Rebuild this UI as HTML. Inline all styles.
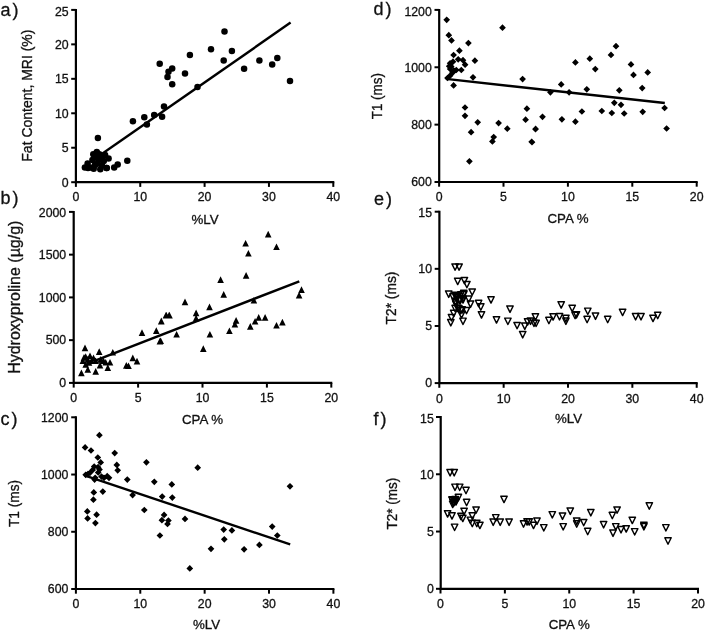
<!DOCTYPE html>
<html><head><meta charset="utf-8"><title>Figure</title>
<style>html,body{margin:0;padding:0;background:#fff;width:706px;height:631px;overflow:hidden}svg{display:block;will-change:transform;filter:blur(0.35px)}text{stroke:#111;stroke-width:0.3px}</style>
</head><body>
<svg width="706" height="631" viewBox="0 0 706 631" font-family='"Liberation Sans", sans-serif' fill="#111" stroke-width="0">
<rect width="706" height="631" fill="#fff"/>
<path d="M75.9 8.9V182.2H334.3" fill="none" stroke="#000" stroke-width="2.2" stroke-linejoin="miter" stroke-linecap="butt"/>
<line x1="71.2" y1="182.2" x2="75.9" y2="182.2" stroke="#000" stroke-width="2.0"/>
<line x1="71.2" y1="147.74" x2="75.9" y2="147.74" stroke="#000" stroke-width="2.0"/>
<line x1="71.2" y1="113.28" x2="75.9" y2="113.28" stroke="#000" stroke-width="2.0"/>
<line x1="71.2" y1="78.82" x2="75.9" y2="78.82" stroke="#000" stroke-width="2.0"/>
<line x1="71.2" y1="44.36" x2="75.9" y2="44.36" stroke="#000" stroke-width="2.0"/>
<line x1="71.2" y1="9.9" x2="75.9" y2="9.9" stroke="#000" stroke-width="2.0"/>
<line x1="75.9" y1="182.2" x2="75.9" y2="186.9" stroke="#000" stroke-width="2.0"/>
<line x1="140.25" y1="182.2" x2="140.25" y2="186.9" stroke="#000" stroke-width="2.0"/>
<line x1="204.6" y1="182.2" x2="204.6" y2="186.9" stroke="#000" stroke-width="2.0"/>
<line x1="268.95" y1="182.2" x2="268.95" y2="186.9" stroke="#000" stroke-width="2.0"/>
<line x1="333.3" y1="182.2" x2="333.3" y2="186.9" stroke="#000" stroke-width="2.0"/>
<text x="68.6" y="186.5" text-anchor="end" font-size="12.3">0</text>
<text x="68.6" y="152.04" text-anchor="end" font-size="12.3">5</text>
<text x="68.6" y="117.58" text-anchor="end" font-size="12.3">10</text>
<text x="68.6" y="83.12" text-anchor="end" font-size="12.3">15</text>
<text x="68.6" y="48.66" text-anchor="end" font-size="12.3">20</text>
<text x="68.6" y="15.5" text-anchor="end" font-size="12.3">25</text>
<text x="75.9" y="201.2" text-anchor="middle" font-size="12.3">0</text>
<text x="140.25" y="201.2" text-anchor="middle" font-size="12.3">10</text>
<text x="204.6" y="201.2" text-anchor="middle" font-size="12.3">20</text>
<text x="268.95" y="201.2" text-anchor="middle" font-size="12.3">30</text>
<text x="333.3" y="201.2" text-anchor="middle" font-size="12.3">40</text>
<text x="205" y="224.2" text-anchor="middle" font-size="13.3">%LV</text>
<text transform="translate(31.6,95.6) rotate(-90) scale(1,1.1)" text-anchor="middle" font-size="14">Fat Content, MRI (%)</text>
<text x="0.4" y="15.6" font-size="18">a<tspan dx="2">)</tspan></text>
<line x1="101" y1="154.6" x2="290.6" y2="22.6" stroke="#000" stroke-width="2.4"/>
<path d="M73.7 210.9V382.9H332.3" fill="none" stroke="#000" stroke-width="2.2" stroke-linejoin="miter" stroke-linecap="butt"/>
<line x1="69" y1="382.9" x2="73.7" y2="382.9" stroke="#000" stroke-width="2.0"/>
<line x1="69" y1="340.15" x2="73.7" y2="340.15" stroke="#000" stroke-width="2.0"/>
<line x1="69" y1="297.4" x2="73.7" y2="297.4" stroke="#000" stroke-width="2.0"/>
<line x1="69" y1="254.65" x2="73.7" y2="254.65" stroke="#000" stroke-width="2.0"/>
<line x1="69" y1="211.9" x2="73.7" y2="211.9" stroke="#000" stroke-width="2.0"/>
<line x1="73.7" y1="382.9" x2="73.7" y2="387.6" stroke="#000" stroke-width="2.0"/>
<line x1="138.1" y1="382.9" x2="138.1" y2="387.6" stroke="#000" stroke-width="2.0"/>
<line x1="202.5" y1="382.9" x2="202.5" y2="387.6" stroke="#000" stroke-width="2.0"/>
<line x1="266.9" y1="382.9" x2="266.9" y2="387.6" stroke="#000" stroke-width="2.0"/>
<line x1="331.3" y1="382.9" x2="331.3" y2="387.6" stroke="#000" stroke-width="2.0"/>
<text x="66.2" y="387.2" text-anchor="end" font-size="12.3">0</text>
<text x="66.2" y="344.45" text-anchor="end" font-size="12.3">500</text>
<text x="66.2" y="301.7" text-anchor="end" font-size="12.3">1000</text>
<text x="66.2" y="258.95" text-anchor="end" font-size="12.3">1500</text>
<text x="66.2" y="216.7" text-anchor="end" font-size="12.3">2000</text>
<text x="73.7" y="401.9" text-anchor="middle" font-size="12.3">0</text>
<text x="138.1" y="401.9" text-anchor="middle" font-size="12.3">5</text>
<text x="202.5" y="401.9" text-anchor="middle" font-size="12.3">10</text>
<text x="266.9" y="401.9" text-anchor="middle" font-size="12.3">15</text>
<text x="331.3" y="401.9" text-anchor="middle" font-size="12.3">20</text>
<text x="202.5" y="424.2" text-anchor="middle" font-size="13.3">CPA %</text>
<text transform="translate(19.6,297.2) rotate(-90) scale(1,1.02)" text-anchor="middle" font-size="16">Hydroxyproline (µg/g)</text>
<text x="0.4" y="204" font-size="18">b<tspan dx="2">)</tspan></text>
<line x1="94.5" y1="360.8" x2="299.3" y2="281.3" stroke="#000" stroke-width="2.4"/>
<path d="M75.9 416.3V589H334.4" fill="none" stroke="#000" stroke-width="2.2" stroke-linejoin="miter" stroke-linecap="butt"/>
<line x1="71.2" y1="589" x2="75.9" y2="589" stroke="#000" stroke-width="2.0"/>
<line x1="71.2" y1="531.77" x2="75.9" y2="531.77" stroke="#000" stroke-width="2.0"/>
<line x1="71.2" y1="474.53" x2="75.9" y2="474.53" stroke="#000" stroke-width="2.0"/>
<line x1="71.2" y1="417.3" x2="75.9" y2="417.3" stroke="#000" stroke-width="2.0"/>
<line x1="75.9" y1="589" x2="75.9" y2="593.7" stroke="#000" stroke-width="2.0"/>
<line x1="140.28" y1="589" x2="140.28" y2="593.7" stroke="#000" stroke-width="2.0"/>
<line x1="204.65" y1="589" x2="204.65" y2="593.7" stroke="#000" stroke-width="2.0"/>
<line x1="269.02" y1="589" x2="269.02" y2="593.7" stroke="#000" stroke-width="2.0"/>
<line x1="333.4" y1="589" x2="333.4" y2="593.7" stroke="#000" stroke-width="2.0"/>
<text x="68.4" y="593.3" text-anchor="end" font-size="12.3">600</text>
<text x="68.4" y="536.07" text-anchor="end" font-size="12.3">800</text>
<text x="68.4" y="478.83" text-anchor="end" font-size="12.3">1000</text>
<text x="68.4" y="422.1" text-anchor="end" font-size="12.3">1200</text>
<text x="75.9" y="608.2" text-anchor="middle" font-size="12.3">0</text>
<text x="140.28" y="608.2" text-anchor="middle" font-size="12.3">10</text>
<text x="204.65" y="608.2" text-anchor="middle" font-size="12.3">20</text>
<text x="269.02" y="608.2" text-anchor="middle" font-size="12.3">30</text>
<text x="333.4" y="608.2" text-anchor="middle" font-size="12.3">40</text>
<text x="206.6" y="628.8" text-anchor="middle" font-size="13.3">%LV</text>
<text transform="translate(19,503.5) rotate(-90) scale(1,1.1)" text-anchor="middle" font-size="13.7">T1 (ms)</text>
<text x="0.4" y="424.6" font-size="18">c<tspan dx="2">)</tspan></text>
<line x1="84.4" y1="475.3" x2="290.2" y2="544.4" stroke="#000" stroke-width="2.4"/>
<path d="M439.2 8.9V182H697.7" fill="none" stroke="#000" stroke-width="2.2" stroke-linejoin="miter" stroke-linecap="butt"/>
<line x1="434.5" y1="182" x2="439.2" y2="182" stroke="#000" stroke-width="2.0"/>
<line x1="434.5" y1="124.63" x2="439.2" y2="124.63" stroke="#000" stroke-width="2.0"/>
<line x1="434.5" y1="67.27" x2="439.2" y2="67.27" stroke="#000" stroke-width="2.0"/>
<line x1="434.5" y1="9.9" x2="439.2" y2="9.9" stroke="#000" stroke-width="2.0"/>
<line x1="439.1" y1="182" x2="439.1" y2="186.7" stroke="#000" stroke-width="2.0"/>
<line x1="503.5" y1="182" x2="503.5" y2="186.7" stroke="#000" stroke-width="2.0"/>
<line x1="567.9" y1="182" x2="567.9" y2="186.7" stroke="#000" stroke-width="2.0"/>
<line x1="632.3" y1="182" x2="632.3" y2="186.7" stroke="#000" stroke-width="2.0"/>
<line x1="696.7" y1="182" x2="696.7" y2="186.7" stroke="#000" stroke-width="2.0"/>
<text x="431.8" y="186.3" text-anchor="end" font-size="12.3">600</text>
<text x="431.8" y="128.93" text-anchor="end" font-size="12.3">800</text>
<text x="431.8" y="71.57" text-anchor="end" font-size="12.3">1000</text>
<text x="431.8" y="15.8" text-anchor="end" font-size="12.3">1200</text>
<text x="439.1" y="201.3" text-anchor="middle" font-size="12.3">0</text>
<text x="503.5" y="201.3" text-anchor="middle" font-size="12.3">5</text>
<text x="567.9" y="201.3" text-anchor="middle" font-size="12.3">10</text>
<text x="632.3" y="201.3" text-anchor="middle" font-size="12.3">15</text>
<text x="696.7" y="201.3" text-anchor="middle" font-size="12.3">20</text>
<text x="568" y="222.8" text-anchor="middle" font-size="13.3">CPA %</text>
<text transform="translate(381.6,96.2) rotate(-90) scale(1,1.1)" text-anchor="middle" font-size="13.4">T1 (ms)</text>
<text x="373.4" y="15.2" font-size="18">d<tspan dx="2">)</tspan></text>
<line x1="445.9" y1="78.9" x2="664.8" y2="103" stroke="#000" stroke-width="2.4"/>
<path d="M439.4 210.7V383.1H697.7" fill="none" stroke="#000" stroke-width="2.2" stroke-linejoin="miter" stroke-linecap="butt"/>
<line x1="434.7" y1="383.1" x2="439.4" y2="383.1" stroke="#000" stroke-width="2.0"/>
<line x1="434.7" y1="325.97" x2="439.4" y2="325.97" stroke="#000" stroke-width="2.0"/>
<line x1="434.7" y1="268.83" x2="439.4" y2="268.83" stroke="#000" stroke-width="2.0"/>
<line x1="434.7" y1="211.7" x2="439.4" y2="211.7" stroke="#000" stroke-width="2.0"/>
<line x1="439.3" y1="383.1" x2="439.3" y2="387.8" stroke="#000" stroke-width="2.0"/>
<line x1="503.65" y1="383.1" x2="503.65" y2="387.8" stroke="#000" stroke-width="2.0"/>
<line x1="568" y1="383.1" x2="568" y2="387.8" stroke="#000" stroke-width="2.0"/>
<line x1="632.35" y1="383.1" x2="632.35" y2="387.8" stroke="#000" stroke-width="2.0"/>
<line x1="696.7" y1="383.1" x2="696.7" y2="387.8" stroke="#000" stroke-width="2.0"/>
<text x="432" y="387.4" text-anchor="end" font-size="12.3">0</text>
<text x="432" y="330.27" text-anchor="end" font-size="12.3">5</text>
<text x="432" y="273.13" text-anchor="end" font-size="12.3">10</text>
<text x="432" y="217" text-anchor="end" font-size="12.3">15</text>
<text x="439.3" y="402.7" text-anchor="middle" font-size="12.3">0</text>
<text x="503.65" y="402.7" text-anchor="middle" font-size="12.3">10</text>
<text x="568" y="402.7" text-anchor="middle" font-size="12.3">20</text>
<text x="632.35" y="402.7" text-anchor="middle" font-size="12.3">30</text>
<text x="696.7" y="402.7" text-anchor="middle" font-size="12.3">40</text>
<text x="568.5" y="423.3" text-anchor="middle" font-size="13.3">%LV</text>
<text transform="translate(396,298) rotate(-90) scale(1,1.1)" text-anchor="middle" font-size="13.8">T2* (ms)</text>
<text x="373.9" y="204.6" font-size="18">e<tspan dx="2">)</tspan></text>
<path d="M440.7 416V588.8H699" fill="none" stroke="#000" stroke-width="2.2" stroke-linejoin="miter" stroke-linecap="butt"/>
<line x1="436" y1="588.8" x2="440.7" y2="588.8" stroke="#000" stroke-width="2.0"/>
<line x1="436" y1="531.53" x2="440.7" y2="531.53" stroke="#000" stroke-width="2.0"/>
<line x1="436" y1="474.27" x2="440.7" y2="474.27" stroke="#000" stroke-width="2.0"/>
<line x1="436" y1="417" x2="440.7" y2="417" stroke="#000" stroke-width="2.0"/>
<line x1="440.5" y1="588.8" x2="440.5" y2="593.5" stroke="#000" stroke-width="2.0"/>
<line x1="504.88" y1="588.8" x2="504.88" y2="593.5" stroke="#000" stroke-width="2.0"/>
<line x1="569.25" y1="588.8" x2="569.25" y2="593.5" stroke="#000" stroke-width="2.0"/>
<line x1="633.62" y1="588.8" x2="633.62" y2="593.5" stroke="#000" stroke-width="2.0"/>
<line x1="698" y1="588.8" x2="698" y2="593.5" stroke="#000" stroke-width="2.0"/>
<text x="433.8" y="593.1" text-anchor="end" font-size="12.3">0</text>
<text x="433.8" y="535.83" text-anchor="end" font-size="12.3">5</text>
<text x="433.8" y="478.57" text-anchor="end" font-size="12.3">10</text>
<text x="433.8" y="422.7" text-anchor="end" font-size="12.3">15</text>
<text x="440.5" y="608.1" text-anchor="middle" font-size="12.3">0</text>
<text x="504.88" y="608.1" text-anchor="middle" font-size="12.3">5</text>
<text x="569.25" y="608.1" text-anchor="middle" font-size="12.3">10</text>
<text x="633.62" y="608.1" text-anchor="middle" font-size="12.3">15</text>
<text x="698" y="608.1" text-anchor="middle" font-size="12.3">20</text>
<text x="569.2" y="628.8" text-anchor="middle" font-size="13.3">CPA %</text>
<text transform="translate(396.9,503.7) rotate(-90) scale(1,1.1)" text-anchor="middle" font-size="13.5">T2* (ms)</text>
<text x="373.4" y="424.6" font-size="18">f<tspan dx="2">)</tspan></text>
<g fill="#000">
<circle cx="224.5" cy="31.4" r="3.25"/>
<circle cx="211" cy="49.2" r="3.25"/>
<circle cx="231.9" cy="51" r="3.25"/>
<circle cx="223.7" cy="60.4" r="3.25"/>
<circle cx="189.9" cy="55" r="3.25"/>
<circle cx="259.4" cy="60.4" r="3.25"/>
<circle cx="277.3" cy="58.1" r="3.25"/>
<circle cx="272.2" cy="64.5" r="3.25"/>
<circle cx="244.1" cy="68.8" r="3.25"/>
<circle cx="290" cy="81.1" r="3.25"/>
<circle cx="185" cy="73.5" r="3.25"/>
<circle cx="197.5" cy="87.1" r="3.25"/>
<circle cx="172.2" cy="68.4" r="3.25"/>
<circle cx="168.5" cy="71.8" r="3.25"/>
<circle cx="167.5" cy="77" r="3.25"/>
<circle cx="172.2" cy="84.3" r="3.25"/>
<circle cx="159.7" cy="63.8" r="3.25"/>
<circle cx="164" cy="106.4" r="3.25"/>
<circle cx="162.1" cy="116.7" r="3.25"/>
<circle cx="154.2" cy="115" r="3.25"/>
<circle cx="144.3" cy="117.3" r="3.25"/>
<circle cx="146.9" cy="124.4" r="3.25"/>
<circle cx="132.9" cy="121.3" r="3.25"/>
<circle cx="97.9" cy="137.9" r="3.25"/>
<circle cx="127.3" cy="160.8" r="3.25"/>
<circle cx="117.7" cy="164.5" r="3.25"/>
<circle cx="114.2" cy="167.5" r="3.25"/>
<circle cx="106.8" cy="168" r="3.25"/>
<circle cx="108.6" cy="158.4" r="3.25"/>
<circle cx="96.8" cy="152.1" r="3.25"/>
<circle cx="93.3" cy="154.2" r="3.25"/>
<circle cx="84.9" cy="167.5" r="3.25"/>
<circle cx="87.6" cy="163.6" r="3.25"/>
<circle cx="90.3" cy="167.5" r="3.25"/>
<circle cx="92.4" cy="160.1" r="3.25"/>
<circle cx="93.7" cy="168.8" r="3.25"/>
<circle cx="95.9" cy="157.5" r="3.25"/>
<circle cx="97.7" cy="163.6" r="3.25"/>
<circle cx="100.3" cy="169.3" r="3.25"/>
<circle cx="101.2" cy="156.6" r="3.25"/>
<circle cx="103.8" cy="161" r="3.25"/>
<circle cx="105.1" cy="154.9" r="3.25"/>
<circle cx="106.4" cy="168" r="3.25"/>
<circle cx="99.4" cy="154.2" r="3.25"/>
<circle cx="88" cy="168" r="3.25"/>
<circle cx="95" cy="165" r="3.25"/>
<circle cx="98.5" cy="160" r="3.25"/>
<circle cx="102" cy="165.5" r="3.25"/>
<path d="M81.4 369.6L84.7 376.3H78.1ZM87.8 366L91.1 372.7H84.5ZM95.7 368.1L99 374.8H92.4ZM107.8 364.3L111.1 371H104.5ZM85 344.6L88.3 351.3H81.7ZM99.2 348.2L102.5 354.9H95.9ZM112.8 348.9L116.1 355.6H109.5ZM110 358.9L113.3 365.6H106.7ZM100 361.7L103.3 368.4H96.7ZM126.3 362L129.6 368.7H123ZM128.5 362.4L131.8 369.1H125.2ZM132.8 354.6L136.1 361.3H129.5ZM137 357.7L140.3 364.4H133.7ZM142 329.2L145.3 335.9H138.7ZM156.3 327.2L159.6 333.9H153ZM159.9 337.8L163.2 344.5H156.6ZM161.3 317.5L164.6 324.2H158ZM166.3 311.8L169.6 318.5H163ZM169.1 311.8L172.4 318.5H165.8ZM82.8 357.4L86.1 364.1H79.5ZM85.7 353.2L89 359.9H82.4ZM87.8 356L91.1 362.7H84.5ZM90 352.4L93.3 359.1H86.7ZM91.4 357.4L94.7 364.1H88.1ZM93.5 354.6L96.8 361.3H90.2ZM85.7 361L89 367.7H82.4ZM95.7 357.4L99 364.1H92.4ZM103.5 357.4L106.8 364.1H100.2ZM105.7 358.9L109 365.6H102.4ZM100.7 356L104 362.7H97.4ZM89 359.1L92.3 365.8H85.7ZM84 354.1L87.3 360.8H80.7ZM268.2 230.8L271.5 237.5H264.9ZM245.6 239.9L248.9 246.6H242.3ZM276.5 243.4L279.8 250.1H273.2ZM248.4 249.9L251.7 256.6H245.1ZM246.1 272L249.4 278.7H242.8ZM220.6 276.3L223.9 283H217.3ZM223.7 291L227 297.7H220.4ZM301.5 286.2L304.8 292.9H298.2ZM299.1 291.7L302.4 298.4H295.8ZM253.9 296.9L257.2 303.6H250.6ZM185 298.6L188.3 305.3H181.7ZM209.5 303.6L212.8 310.3H206.2ZM196.1 309.5L199.4 316.2H192.8ZM196.1 314.8L199.4 321.5H192.8ZM169.5 311.9L172.8 318.6H166.2ZM165.9 311.9L169.2 318.6H162.6ZM161.2 317.9L164.5 324.6H157.9ZM236.1 317.1L239.4 323.8H232.8ZM234.9 320.7L238.2 327.4H231.6ZM229.4 327.4L232.7 334.1H226.1ZM250.3 323.1L253.6 329.8H247ZM255.1 317.9L258.4 324.6H251.8ZM258.7 314.1L262 320.8H255.4ZM265.1 314.1L268.4 320.8H261.8ZM276.5 321.9L279.8 328.6H273.2ZM282.4 318.8L285.7 325.5H279.1ZM209.9 330.9L213.2 337.6H206.6ZM176.6 330.9L179.9 337.6H173.3ZM203.3 345.2L206.6 351.9H200ZM160.7 337.4L164 344.1H157.4Z"/>
<path d="M99.4 431.85L102.75 435.2L99.4 438.55L96.05 435.2ZM85.1 444.05L88.45 447.4L85.1 450.75L81.75 447.4ZM91 447.15L94.35 450.5L91 453.85L87.65 450.5ZM114.7 449.75L118.05 453.1L114.7 456.45L111.35 453.1ZM97.8 454.15L101.15 457.5L97.8 460.85L94.45 457.5ZM100.7 459.05L104.05 462.4L100.7 465.75L97.35 462.4ZM146.4 458.95L149.75 462.3L146.4 465.65L143.05 462.3ZM116.8 461.55L120.15 464.9L116.8 468.25L113.45 464.9ZM117.7 466.95L121.05 470.3L117.7 473.65L114.35 470.3ZM94.2 463.25L97.55 466.6L94.2 469.95L90.85 466.6ZM98.1 463.85L101.45 467.2L98.1 470.55L94.75 467.2ZM99.5 466.25L102.85 469.6L99.5 472.95L96.15 469.6ZM92.7 466.55L96.05 469.9L92.7 473.25L89.35 469.9ZM90.2 469.25L93.55 472.6L90.2 475.95L86.85 472.6ZM87.8 470.85L91.15 474.2L87.8 477.55L84.45 474.2ZM85.7 471.45L89.05 474.8L85.7 478.15L82.35 474.8ZM94.6 476.25L97.95 479.6L94.6 482.95L91.25 479.6ZM95.2 474.45L98.55 477.8L95.2 481.15L91.85 477.8ZM101.5 473.25L104.85 476.6L101.5 479.95L98.15 476.6ZM104 474.45L107.35 477.8L104 481.15L100.65 477.8ZM107.2 472.85L110.55 476.2L107.2 479.55L103.85 476.2ZM109 474.45L112.35 477.8L109 481.15L105.65 477.8ZM98.2 469.15L101.55 472.5L98.2 475.85L94.85 472.5ZM127.3 476.25L130.65 479.6L127.3 482.95L123.95 479.6ZM154.3 478.45L157.65 481.8L154.3 485.15L150.95 481.8ZM171.8 481.05L175.15 484.4L171.8 487.75L168.45 484.4ZM102.8 488.25L106.15 491.6L102.8 494.95L99.45 491.6ZM93.8 489.05L97.15 492.4L93.8 495.75L90.45 492.4ZM132.6 491.75L135.95 495.1L132.6 498.45L129.25 495.1ZM162.2 493.25L165.55 496.6L162.2 499.95L158.85 496.6ZM172.3 494.25L175.65 497.6L172.3 500.95L168.95 497.6ZM93.4 496.35L96.75 499.7L93.4 503.05L90.05 499.7ZM87.3 508.05L90.65 511.4L87.3 514.75L83.95 511.4ZM96.6 511.35L99.95 514.7L96.6 518.05L93.25 514.7ZM87.6 515.05L90.95 518.4L87.6 521.75L84.25 518.4ZM95.4 519.75L98.75 523.1L95.4 526.45L92.05 523.1ZM144.3 506.65L147.65 510L144.3 513.35L140.95 510ZM164.1 511.55L167.45 514.9L164.1 518.25L160.75 514.9ZM161.9 516.85L165.25 520.2L161.9 523.55L158.55 520.2ZM168.4 517.25L171.75 520.6L168.4 523.95L165.05 520.6ZM167.5 520.65L170.85 524L167.5 527.35L164.15 524ZM159.9 532.15L163.25 535.5L159.9 538.85L156.55 535.5ZM197.7 464.35L201.05 467.7L197.7 471.05L194.35 467.7ZM290 482.95L293.35 486.3L290 489.65L286.65 486.3ZM185 515.55L188.35 518.9L185 522.25L181.65 518.9ZM223.7 526.25L227.05 529.6L223.7 532.95L220.35 529.6ZM231.9 527.05L235.25 530.4L231.9 533.75L228.55 530.4ZM224.3 535.95L227.65 539.3L224.3 542.65L220.95 539.3ZM272.2 523.25L275.55 526.6L272.2 529.95L268.85 526.6ZM277.3 532.15L280.65 535.5L277.3 538.85L273.95 535.5ZM211 545.45L214.35 548.8L211 552.15L207.65 548.8ZM244.1 545.95L247.45 549.3L244.1 552.65L240.75 549.3ZM259.4 541.55L262.75 544.9L259.4 548.25L256.05 544.9ZM189.8 565.05L193.15 568.4L189.8 571.75L186.45 568.4Z"/>
<path d="M446.7 16.45L450.05 19.8L446.7 23.15L443.35 19.8ZM502.5 24.35L505.85 27.7L502.5 31.05L499.15 27.7ZM448.8 31.85L452.15 35.2L448.8 38.55L445.45 35.2ZM451.5 37.05L454.85 40.4L451.5 43.75L448.15 40.4ZM468.4 39.75L471.75 43.1L468.4 46.45L465.05 43.1ZM459.4 47.35L462.75 50.7L459.4 54.05L456.05 50.7ZM474.9 57.35L478.25 60.7L474.9 64.05L471.55 60.7ZM473 73.95L476.35 77.3L473 80.65L469.65 77.3ZM522.6 75.75L525.95 79.1L522.6 82.45L519.25 79.1ZM453.6 82.05L456.95 85.4L453.6 88.75L450.25 85.4ZM453.6 51.65L456.95 55L453.6 58.35L450.25 55ZM458.2 55.95L461.55 59.3L458.2 62.65L454.85 59.3ZM463 56.85L466.35 60.2L463 63.55L459.65 60.2ZM465.1 61.35L468.45 64.7L465.1 68.05L461.75 64.7ZM453 58.35L456.35 61.7L453 65.05L449.65 61.7ZM450.1 59.95L453.45 63.3L450.1 66.65L446.75 63.3ZM449.2 62.85L452.55 66.2L449.2 69.55L445.85 66.2ZM450.1 65.65L453.45 69L450.1 72.35L446.75 69ZM453.9 67.25L457.25 70.6L453.9 73.95L450.55 70.6ZM456.3 66.65L459.65 70L456.3 73.35L452.95 70ZM461.3 66.65L464.65 70L461.3 73.35L457.95 70ZM452.5 69.45L455.85 72.8L452.5 76.15L449.15 72.8ZM450.1 72.35L453.45 75.7L450.1 79.05L446.75 75.7ZM447.5 74.65L450.85 78L447.5 81.35L444.15 78ZM451.2 63.15L454.55 66.5L451.2 69.85L447.85 66.5ZM465 104.15L468.35 107.5L465 110.85L461.65 107.5ZM465 112.45L468.35 115.8L465 119.15L461.65 115.8ZM477.7 118.95L481.05 122.3L477.7 125.65L474.35 122.3ZM471.1 128.85L474.45 132.2L471.1 135.55L467.75 132.2ZM498.6 119.75L501.95 123.1L498.6 126.45L495.25 123.1ZM507.3 125.35L510.65 128.7L507.3 132.05L503.95 128.7ZM493.7 133.75L497.05 137.1L493.7 140.45L490.35 137.1ZM492.4 138.05L495.75 141.4L492.4 144.75L489.05 141.4ZM526.9 105.35L530.25 108.7L526.9 112.05L523.55 108.7ZM525.6 116.35L528.95 119.7L525.6 123.05L522.25 119.7ZM535.6 125.55L538.95 128.9L535.6 132.25L532.25 128.9ZM531.7 138.45L535.05 141.8L531.7 145.15L528.35 141.8ZM469.4 157.95L472.75 161.3L469.4 164.65L466.05 161.3ZM616 42.85L619.35 46.2L616 49.55L612.65 46.2ZM611 51.55L614.35 54.9L611 58.25L607.65 54.9ZM589.8 55.35L593.15 58.7L589.8 62.05L586.45 58.7ZM575.4 59.05L578.75 62.4L575.4 65.75L572.05 62.4ZM595.3 65.75L598.65 69.1L595.3 72.45L591.95 69.1ZM631 61.05L634.35 64.4L631 67.75L627.65 64.4ZM633.5 71.55L636.85 74.9L633.5 78.25L630.15 74.9ZM647.7 69.05L651.05 72.4L647.7 75.75L644.35 72.4ZM561.2 81.05L564.55 84.4L561.2 87.75L557.85 84.4ZM550.4 88.95L553.75 92.3L550.4 95.65L547.05 92.3ZM569.1 88.95L572.45 92.3L569.1 95.65L565.75 92.3ZM586.8 85.95L590.15 89.3L586.8 92.65L583.45 89.3ZM619.3 86.95L622.65 90.3L619.3 93.65L615.95 90.3ZM642.2 84.75L645.55 88.1L642.2 91.45L638.85 88.1ZM614.3 99.45L617.65 102.8L614.3 106.15L610.95 102.8ZM621 101.45L624.35 104.8L621 108.15L617.65 104.8ZM664.6 104.65L667.95 108L664.6 111.35L661.25 108ZM581.9 108.15L585.25 111.5L581.9 114.85L578.55 111.5ZM601.8 107.65L605.15 111L601.8 114.35L598.45 111ZM611.8 109.65L615.15 113L611.8 116.35L608.45 113ZM624.2 110.15L627.55 113.5L624.2 116.85L620.85 113.5ZM642.7 108.45L646.05 111.8L642.7 115.15L639.35 111.8ZM542.5 113.45L545.85 116.8L542.5 120.15L539.15 116.8ZM561.9 115.95L565.25 119.3L561.9 122.65L558.55 119.3ZM575.4 118.35L578.75 121.7L575.4 125.05L572.05 121.7ZM535.5 125.85L538.85 129.2L535.5 132.55L532.15 129.2ZM666.6 125.15L669.95 128.5L666.6 131.85L663.25 128.5ZM532 138.85L535.35 142.2L532 145.55L528.65 142.2Z"/>
</g>
<path d="M451.9 263.9H458.3L455.1 270.3Z" fill="none" stroke="#000" stroke-width="1.45" stroke-linejoin="round"/>
<path d="M455.9 263.9H462.3L459.1 270.3Z" fill="none" stroke="#000" stroke-width="1.45" stroke-linejoin="round"/>
<path d="M454.5 278.2H460.9L457.7 284.6Z" fill="none" stroke="#000" stroke-width="1.45" stroke-linejoin="round"/>
<path d="M461.2 277.4H467.6L464.4 283.8Z" fill="none" stroke="#000" stroke-width="1.45" stroke-linejoin="round"/>
<path d="M463.7 281.4H470.1L466.9 287.8Z" fill="none" stroke="#000" stroke-width="1.45" stroke-linejoin="round"/>
<path d="M445.5 291H451.9L448.7 297.4Z" fill="none" stroke="#000" stroke-width="1.45" stroke-linejoin="round"/>
<path d="M469 288.9H475.4L472.2 295.3Z" fill="none" stroke="#000" stroke-width="1.45" stroke-linejoin="round"/>
<path d="M460.5 290.3H466.9L463.7 296.7Z" fill="none" stroke="#000" stroke-width="1.45" stroke-linejoin="round"/>
<path d="M449.8 293.8H456.2L453 300.2Z" fill="none" stroke="#000" stroke-width="1.45" stroke-linejoin="round"/>
<path d="M453.3 293.1H459.7L456.5 299.5Z" fill="none" stroke="#000" stroke-width="1.45" stroke-linejoin="round"/>
<path d="M465.5 296H471.9L468.7 302.4Z" fill="none" stroke="#000" stroke-width="1.45" stroke-linejoin="round"/>
<path d="M467.3 301H473.7L470.5 307.4Z" fill="none" stroke="#000" stroke-width="1.45" stroke-linejoin="round"/>
<path d="M459.8 296.7H466.2L463 303.1Z" fill="none" stroke="#000" stroke-width="1.45" stroke-linejoin="round"/>
<path d="M456.2 297.4H462.6L459.4 303.8Z" fill="none" stroke="#000" stroke-width="1.45" stroke-linejoin="round"/>
<path d="M452.6 301H459L455.8 307.4Z" fill="none" stroke="#000" stroke-width="1.45" stroke-linejoin="round"/>
<path d="M475.4 300.3H481.8L478.6 306.7Z" fill="none" stroke="#000" stroke-width="1.45" stroke-linejoin="round"/>
<path d="M477.6 303.8H484L480.8 310.2Z" fill="none" stroke="#000" stroke-width="1.45" stroke-linejoin="round"/>
<path d="M487.8 296.7H494.2L491 303.1Z" fill="none" stroke="#000" stroke-width="1.45" stroke-linejoin="round"/>
<path d="M463.3 307.4H469.7L466.5 313.8Z" fill="none" stroke="#000" stroke-width="1.45" stroke-linejoin="round"/>
<path d="M451.9 305.3H458.3L455.1 311.7Z" fill="none" stroke="#000" stroke-width="1.45" stroke-linejoin="round"/>
<path d="M450.5 310.2H456.9L453.7 316.6Z" fill="none" stroke="#000" stroke-width="1.45" stroke-linejoin="round"/>
<path d="M448.3 314.5H454.7L451.5 320.9Z" fill="none" stroke="#000" stroke-width="1.45" stroke-linejoin="round"/>
<path d="M447.6 319.5H454L450.8 325.9Z" fill="none" stroke="#000" stroke-width="1.45" stroke-linejoin="round"/>
<path d="M459.8 318.1H466.2L463 324.5Z" fill="none" stroke="#000" stroke-width="1.45" stroke-linejoin="round"/>
<path d="M458.3 311.7H464.7L461.5 318.1Z" fill="none" stroke="#000" stroke-width="1.45" stroke-linejoin="round"/>
<path d="M478.3 311.7H484.7L481.5 318.1Z" fill="none" stroke="#000" stroke-width="1.45" stroke-linejoin="round"/>
<path d="M493.3 316.7H499.7L496.5 323.1Z" fill="none" stroke="#000" stroke-width="1.45" stroke-linejoin="round"/>
<path d="M506.8 306H513.2L510 312.4Z" fill="none" stroke="#000" stroke-width="1.45" stroke-linejoin="round"/>
<path d="M504.7 318.1H511.1L507.9 324.5Z" fill="none" stroke="#000" stroke-width="1.45" stroke-linejoin="round"/>
<path d="M513.9 322.4H520.3L517.1 328.8Z" fill="none" stroke="#000" stroke-width="1.45" stroke-linejoin="round"/>
<path d="M459 306.7H465.4L462.2 313.1Z" fill="none" stroke="#000" stroke-width="1.45" stroke-linejoin="round"/>
<path d="M519.5 331.5H525.9L522.7 337.9Z" fill="none" stroke="#000" stroke-width="1.45" stroke-linejoin="round"/>
<path d="M521.6 323H528L524.8 329.4Z" fill="none" stroke="#000" stroke-width="1.45" stroke-linejoin="round"/>
<path d="M524.4 318.7H530.8L527.6 325.1Z" fill="none" stroke="#000" stroke-width="1.45" stroke-linejoin="round"/>
<path d="M527.3 318H533.7L530.5 324.4Z" fill="none" stroke="#000" stroke-width="1.45" stroke-linejoin="round"/>
<path d="M530.8 320.1H537.2L534 326.5Z" fill="none" stroke="#000" stroke-width="1.45" stroke-linejoin="round"/>
<path d="M532.9 320.1H539.3L536.1 326.5Z" fill="none" stroke="#000" stroke-width="1.45" stroke-linejoin="round"/>
<path d="M532.2 313.7H538.6L535.4 320.1Z" fill="none" stroke="#000" stroke-width="1.45" stroke-linejoin="round"/>
<path d="M545.7 317.3H552.1L548.9 323.7Z" fill="none" stroke="#000" stroke-width="1.45" stroke-linejoin="round"/>
<path d="M549.9 313.7H556.3L553.1 320.1Z" fill="none" stroke="#000" stroke-width="1.45" stroke-linejoin="round"/>
<path d="M556.3 313.5H562.7L559.5 319.9Z" fill="none" stroke="#000" stroke-width="1.45" stroke-linejoin="round"/>
<path d="M562.7 315.2H569.1L565.9 321.6Z" fill="none" stroke="#000" stroke-width="1.45" stroke-linejoin="round"/>
<path d="M562.7 318H569.1L565.9 324.4Z" fill="none" stroke="#000" stroke-width="1.45" stroke-linejoin="round"/>
<path d="M558 301.7H564.4L561.2 308.1Z" fill="none" stroke="#000" stroke-width="1.45" stroke-linejoin="round"/>
<path d="M569 305.2H575.4L572.2 311.6Z" fill="none" stroke="#000" stroke-width="1.45" stroke-linejoin="round"/>
<path d="M571.9 312.3H578.3L575.1 318.7Z" fill="none" stroke="#000" stroke-width="1.45" stroke-linejoin="round"/>
<path d="M573.3 311.6H579.7L576.5 318Z" fill="none" stroke="#000" stroke-width="1.45" stroke-linejoin="round"/>
<path d="M584.6 308.1H591L587.8 314.5Z" fill="none" stroke="#000" stroke-width="1.45" stroke-linejoin="round"/>
<path d="M583.9 316.3H590.3L587.1 322.7Z" fill="none" stroke="#000" stroke-width="1.45" stroke-linejoin="round"/>
<path d="M592.3 313H598.7L595.5 319.4Z" fill="none" stroke="#000" stroke-width="1.45" stroke-linejoin="round"/>
<path d="M604.5 316.3H610.9L607.7 322.7Z" fill="none" stroke="#000" stroke-width="1.45" stroke-linejoin="round"/>
<path d="M619.4 309.2H625.8L622.6 315.6Z" fill="none" stroke="#000" stroke-width="1.45" stroke-linejoin="round"/>
<path d="M632.4 313.5H638.8L635.6 319.9Z" fill="none" stroke="#000" stroke-width="1.45" stroke-linejoin="round"/>
<path d="M637.8 313.5H644.2L641 319.9Z" fill="none" stroke="#000" stroke-width="1.45" stroke-linejoin="round"/>
<path d="M649.8 315.2H656.2L653 321.6Z" fill="none" stroke="#000" stroke-width="1.45" stroke-linejoin="round"/>
<path d="M654.5 312.3H660.9L657.7 318.7Z" fill="none" stroke="#000" stroke-width="1.45" stroke-linejoin="round"/>
<path d="M454.71 293.22H461.11L457.91 299.62Z" fill="none" stroke="#000" stroke-width="1.45" stroke-linejoin="round"/>
<path d="M457.66 291.8H464.06L460.86 298.2Z" fill="none" stroke="#000" stroke-width="1.45" stroke-linejoin="round"/>
<path d="M456.62 297.08H463.02L459.82 303.48Z" fill="none" stroke="#000" stroke-width="1.45" stroke-linejoin="round"/>
<path d="M452.32 299.63H458.72L455.52 306.03Z" fill="none" stroke="#000" stroke-width="1.45" stroke-linejoin="round"/>
<path d="M452.14 298.31H458.54L455.34 304.71Z" fill="none" stroke="#000" stroke-width="1.45" stroke-linejoin="round"/>
<path d="M452.43 292.13H458.83L455.63 298.53Z" fill="none" stroke="#000" stroke-width="1.45" stroke-linejoin="round"/>
<path d="M455.62 305.38H462.02L458.82 311.78Z" fill="none" stroke="#000" stroke-width="1.45" stroke-linejoin="round"/>
<path d="M452.91 294.52H459.31L456.11 300.92Z" fill="none" stroke="#000" stroke-width="1.45" stroke-linejoin="round"/>
<path d="M457.45 307.56H463.85L460.65 313.96Z" fill="none" stroke="#000" stroke-width="1.45" stroke-linejoin="round"/>
<path d="M456.99 297.64H463.39L460.19 304.04Z" fill="none" stroke="#000" stroke-width="1.45" stroke-linejoin="round"/>
<path d="M460.59 291.34H466.99L463.79 297.74Z" fill="none" stroke="#000" stroke-width="1.45" stroke-linejoin="round"/>
<path d="M459.53 295.71H465.93L462.73 302.11Z" fill="none" stroke="#000" stroke-width="1.45" stroke-linejoin="round"/>
<path d="M453.1 292.62H459.5L456.3 299.02Z" fill="none" stroke="#000" stroke-width="1.45" stroke-linejoin="round"/>
<path d="M454.58 305.19H460.98L457.78 311.59Z" fill="none" stroke="#000" stroke-width="1.45" stroke-linejoin="round"/>
<path d="M446.9 469.5H453.3L450.1 475.9Z" fill="none" stroke="#000" stroke-width="1.45" stroke-linejoin="round"/>
<path d="M451 469.5H457.4L454.2 475.9Z" fill="none" stroke="#000" stroke-width="1.45" stroke-linejoin="round"/>
<path d="M451.8 484.1H458.2L455 490.5Z" fill="none" stroke="#000" stroke-width="1.45" stroke-linejoin="round"/>
<path d="M456.5 484.1H462.9L459.7 490.5Z" fill="none" stroke="#000" stroke-width="1.45" stroke-linejoin="round"/>
<path d="M462.8 487.3H469.2L466 493.7Z" fill="none" stroke="#000" stroke-width="1.45" stroke-linejoin="round"/>
<path d="M455.2 494.3H461.6L458.4 500.7Z" fill="none" stroke="#000" stroke-width="1.45" stroke-linejoin="round"/>
<path d="M448.8 496.8H455.2L452 503.2Z" fill="none" stroke="#000" stroke-width="1.45" stroke-linejoin="round"/>
<path d="M452 498.1H458.4L455.2 504.5Z" fill="none" stroke="#000" stroke-width="1.45" stroke-linejoin="round"/>
<path d="M463.4 499.3H469.8L466.6 505.7Z" fill="none" stroke="#000" stroke-width="1.45" stroke-linejoin="round"/>
<path d="M449.5 501.2H455.9L452.7 507.6Z" fill="none" stroke="#000" stroke-width="1.45" stroke-linejoin="round"/>
<path d="M472.9 506.9H479.3L476.1 513.3Z" fill="none" stroke="#000" stroke-width="1.45" stroke-linejoin="round"/>
<path d="M460.9 508.2H467.3L464.1 514.6Z" fill="none" stroke="#000" stroke-width="1.45" stroke-linejoin="round"/>
<path d="M444.4 510.7H450.8L447.6 517.1Z" fill="none" stroke="#000" stroke-width="1.45" stroke-linejoin="round"/>
<path d="M448.8 512.7H455.2L452 519.1Z" fill="none" stroke="#000" stroke-width="1.45" stroke-linejoin="round"/>
<path d="M457.7 513.3H464.1L460.9 519.7Z" fill="none" stroke="#000" stroke-width="1.45" stroke-linejoin="round"/>
<path d="M459.6 515.2H466L462.8 521.6Z" fill="none" stroke="#000" stroke-width="1.45" stroke-linejoin="round"/>
<path d="M469.1 512.7H475.5L472.3 519.1Z" fill="none" stroke="#000" stroke-width="1.45" stroke-linejoin="round"/>
<path d="M467.2 517.1H473.6L470.4 523.5Z" fill="none" stroke="#000" stroke-width="1.45" stroke-linejoin="round"/>
<path d="M469.1 520.3H475.5L472.3 526.7Z" fill="none" stroke="#000" stroke-width="1.45" stroke-linejoin="round"/>
<path d="M473.6 520.3H480L476.8 526.7Z" fill="none" stroke="#000" stroke-width="1.45" stroke-linejoin="round"/>
<path d="M476.7 522.2H483.1L479.9 528.6Z" fill="none" stroke="#000" stroke-width="1.45" stroke-linejoin="round"/>
<path d="M451.4 524.1H457.8L454.6 530.5Z" fill="none" stroke="#000" stroke-width="1.45" stroke-linejoin="round"/>
<path d="M500.8 496.2H507.2L504 502.6Z" fill="none" stroke="#000" stroke-width="1.45" stroke-linejoin="round"/>
<path d="M492.6 514.6H499L495.8 521Z" fill="none" stroke="#000" stroke-width="1.45" stroke-linejoin="round"/>
<path d="M490 519H496.4L493.2 525.4Z" fill="none" stroke="#000" stroke-width="1.45" stroke-linejoin="round"/>
<path d="M497 519H503.4L500.2 525.4Z" fill="none" stroke="#000" stroke-width="1.45" stroke-linejoin="round"/>
<path d="M505.9 519H512.3L509.1 525.4Z" fill="none" stroke="#000" stroke-width="1.45" stroke-linejoin="round"/>
<path d="M520.3 520.8H526.7L523.5 527.2Z" fill="none" stroke="#000" stroke-width="1.45" stroke-linejoin="round"/>
<path d="M523.9 518.7H530.3L527.1 525.1Z" fill="none" stroke="#000" stroke-width="1.45" stroke-linejoin="round"/>
<path d="M526 518.7H532.4L529.2 525.1Z" fill="none" stroke="#000" stroke-width="1.45" stroke-linejoin="round"/>
<path d="M530.3 522.2H536.7L533.5 528.6Z" fill="none" stroke="#000" stroke-width="1.45" stroke-linejoin="round"/>
<path d="M533.8 518H540.2L537 524.4Z" fill="none" stroke="#000" stroke-width="1.45" stroke-linejoin="round"/>
<path d="M540.6 524.6H547L543.8 531Z" fill="none" stroke="#000" stroke-width="1.45" stroke-linejoin="round"/>
<path d="M549.1 511.6H555.5L552.3 518Z" fill="none" stroke="#000" stroke-width="1.45" stroke-linejoin="round"/>
<path d="M559.3 513H565.7L562.5 519.4Z" fill="none" stroke="#000" stroke-width="1.45" stroke-linejoin="round"/>
<path d="M560 523.6H566.4L563.2 530Z" fill="none" stroke="#000" stroke-width="1.45" stroke-linejoin="round"/>
<path d="M567.1 508H573.5L570.3 514.4Z" fill="none" stroke="#000" stroke-width="1.45" stroke-linejoin="round"/>
<path d="M573.5 518H579.9L576.7 524.4Z" fill="none" stroke="#000" stroke-width="1.45" stroke-linejoin="round"/>
<path d="M573.5 520.8H579.9L576.7 527.2Z" fill="none" stroke="#000" stroke-width="1.45" stroke-linejoin="round"/>
<path d="M580.5 519.4H586.9L583.7 525.8Z" fill="none" stroke="#000" stroke-width="1.45" stroke-linejoin="round"/>
<path d="M584.5 528.3H590.9L587.7 534.7Z" fill="none" stroke="#000" stroke-width="1.45" stroke-linejoin="round"/>
<path d="M587.6 509.5H594L590.8 515.9Z" fill="none" stroke="#000" stroke-width="1.45" stroke-linejoin="round"/>
<path d="M600.4 521.5H606.8L603.6 527.9Z" fill="none" stroke="#000" stroke-width="1.45" stroke-linejoin="round"/>
<path d="M609.1 512.3H615.5L612.3 518.7Z" fill="none" stroke="#000" stroke-width="1.45" stroke-linejoin="round"/>
<path d="M613.9 506.9H620.3L617.1 513.3Z" fill="none" stroke="#000" stroke-width="1.45" stroke-linejoin="round"/>
<path d="M612.6 523.6H619L615.8 530Z" fill="none" stroke="#000" stroke-width="1.45" stroke-linejoin="round"/>
<path d="M609.8 530H616.2L613 536.4Z" fill="none" stroke="#000" stroke-width="1.45" stroke-linejoin="round"/>
<path d="M617.8 526.5H624.2L621 532.9Z" fill="none" stroke="#000" stroke-width="1.45" stroke-linejoin="round"/>
<path d="M623 525.7H629.4L626.2 532.1Z" fill="none" stroke="#000" stroke-width="1.45" stroke-linejoin="round"/>
<path d="M629.1 517.2H635.5L632.3 523.6Z" fill="none" stroke="#000" stroke-width="1.45" stroke-linejoin="round"/>
<path d="M631.5 528.6H637.9L634.7 535Z" fill="none" stroke="#000" stroke-width="1.45" stroke-linejoin="round"/>
<path d="M640.7 522.2H647.1L643.9 528.6Z" fill="none" stroke="#000" stroke-width="1.45" stroke-linejoin="round"/>
<path d="M640.7 523.6H647.1L643.9 530Z" fill="none" stroke="#000" stroke-width="1.45" stroke-linejoin="round"/>
<path d="M646.1 502.8H652.5L649.3 509.2Z" fill="none" stroke="#000" stroke-width="1.45" stroke-linejoin="round"/>
<path d="M662.7 524.6H669.1L665.9 531Z" fill="none" stroke="#000" stroke-width="1.45" stroke-linejoin="round"/>
<path d="M664.8 537.8H671.2L668 544.2Z" fill="none" stroke="#000" stroke-width="1.45" stroke-linejoin="round"/>
<path d="M449.88 499.49H456.28L453.08 505.89Z" fill="none" stroke="#000" stroke-width="1.45" stroke-linejoin="round"/>
<path d="M452.63 498.23H459.03L455.83 504.63Z" fill="none" stroke="#000" stroke-width="1.45" stroke-linejoin="round"/>
<path d="M452.09 496.38H458.49L455.29 502.78Z" fill="none" stroke="#000" stroke-width="1.45" stroke-linejoin="round"/>
<path d="M449.16 497.24H455.56L452.36 503.64Z" fill="none" stroke="#000" stroke-width="1.45" stroke-linejoin="round"/>
<path d="M452.88 498.57H459.28L456.08 504.97Z" fill="none" stroke="#000" stroke-width="1.45" stroke-linejoin="round"/>
<path d="M450.68 499.51H457.08L453.88 505.91Z" fill="none" stroke="#000" stroke-width="1.45" stroke-linejoin="round"/>
<path d="M451.52 497.8H457.92L454.72 504.2Z" fill="none" stroke="#000" stroke-width="1.45" stroke-linejoin="round"/>
</svg>
</body></html>
